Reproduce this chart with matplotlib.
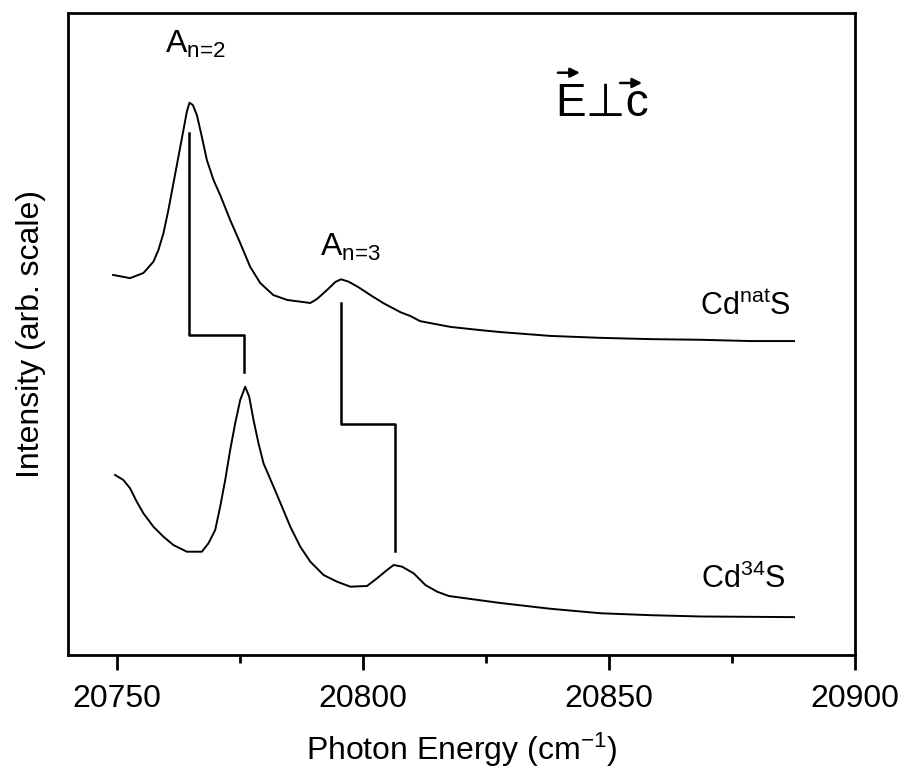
import matplotlib
matplotlib.use("Agg")
import matplotlib.pyplot as plt

plt.rcParams['font.family'] = ['Liberation Sans', 'DejaVu Sans']
plt.rcParams['mathtext.fontset'] = 'custom'
plt.rcParams['mathtext.rm'] = 'Liberation Sans'
plt.rcParams['mathtext.it'] = 'Liberation Sans'

# ---- data (photon energy in cm^-1, intensity in arb. units) ----
nat_x = [20749.16, 20752.62, 20755.33, 20757.36, 20758.38, 20759.40, 20760.41, 20761.43,
         20762.45, 20763.47, 20764.16, 20764.69, 20765.38, 20766.20, 20767.21, 20768.23,
         20769.58, 20770.94, 20772.97, 20775.01, 20777.05, 20779.08, 20781.73, 20784.58,
         20789.26, 20790.62, 20792.66, 20794.35, 20795.51, 20797.05, 20799.09, 20801.47,
         20804.18, 20807.58, 20809.6, 20811.6, 20817.8, 20823.9, 20827.9, 20838.1,
         20848.3, 20858.5, 20868.6, 20878.8, 20887.6]
nat_y = [59.2, 58.7, 59.5, 61.26, 63.08, 65.68, 69.31, 73.47,
         77.62, 81.78, 84.63, 86.03, 85.67, 84.11, 80.73, 77.10,
         73.99, 71.65, 67.76, 64.17, 60.44, 57.94, 56.07, 55.30,
         54.83, 55.45, 56.85, 58.10, 58.52, 58.15, 57.27, 56.07,
         54.78, 53.40, 52.8, 52.0, 51.1, 50.6, 50.3, 49.7,
         49.4, 49.2, 49.1, 48.9, 48.9]

s34_x = [20749.57, 20751.26, 20752.62, 20753.98, 20755.33, 20757.36, 20759.40, 20761.43,
         20764.16, 20767.21, 20768.56, 20769.92, 20770.94, 20771.96, 20772.97, 20773.99,
         20775.01, 20776.03, 20776.84, 20777.72, 20778.73, 20779.75, 20781.79, 20783.50,
         20785.19, 20787.22, 20789.26, 20791.96, 20794.69, 20797.40, 20800.80, 20802.83,
         20804.87, 20806.21, 20807.92, 20810.28, 20812.66, 20815.05, 20817.41, 20827.9,
         20838.1, 20848.3, 20858.5, 20868.6, 20887.6]
s34_y = [28.04, 27.26, 25.96, 23.88, 22.07, 19.99, 18.43, 17.13,
         16.09, 16.09, 17.40, 19.47, 23.10, 27.26, 31.93, 36.08,
         39.72, 41.79, 40.23, 36.60, 32.97, 29.85, 26.21, 23.10,
         19.99, 16.87, 14.54, 12.46, 11.42, 10.64, 10.75, 11.95,
         13.24, 14.02, 13.76, 12.72, 10.90, 9.86, 9.19, 8.1,
         7.2, 6.5, 6.2, 6.0, 5.9]

# isotope shift markers
shift_n2_x = [20764.6, 20764.6, 20775.8, 20775.8]
shift_n2_y = [81.3, 49.8, 49.8, 44.1]
shift_n3_x = [20795.6, 20795.6, 20806.4, 20806.4]
shift_n3_y = [54.8, 36.0, 36.0, 16.2]

fig = plt.figure(figsize=(9.01, 7.76), dpi=100)
ax = fig.add_axes([68/901, 1-655/776, (855-68)/901, (655-13)/776])

ax.plot(nat_x, nat_y, color='black', lw=1.4)
ax.plot(s34_x, s34_y, color='black', lw=1.4)
ax.plot(shift_n2_x, shift_n2_y, color='black', lw=1.8)
ax.plot(shift_n3_x, shift_n3_y, color='black', lw=1.8)

ax.set_xlim(20740, 20900)
ax.set_ylim(0, 100)
ax.set_xticks([20750, 20800, 20850, 20900])
ax.set_xticks([20775, 20825, 20875], minor=True)
ax.set_yticks([])
ax.tick_params(axis='x', which='major', direction='out', length=11, width=2, labelsize=23, pad=10)
ax.tick_params(axis='x', which='minor', direction='out', length=6, width=2)
for s in ax.spines.values():
    s.set_linewidth(2)

ax.set_xlabel('Photon Energy (cm$^{\\mathregular{-1}}$)', fontsize=23, labelpad=12)
ax.set_ylabel('Intensity (arb. scale)', fontsize=23, labelpad=16)

ax.text(20759.7, 93.8, 'A$_{\\text{n=2}}$', fontsize=23, ha='left', va='baseline')
ax.text(20791.3, 62.2, 'A$_{\\text{n=3}}$', fontsize=23, ha='left', va='baseline')
ax.text(20887.0, 53.0, 'Cd$^{\\mathregular{nat}}$S', fontsize=22, ha='right', va='baseline')
ax.text(20885.9, 10.4, 'Cd$^{\\mathregular{34}}$S', fontsize=22, ha='right', va='baseline')

# E perpendicular c with vector arrows
ax.text(20839.1, 84.0, 'E\u22a5c', fontsize=33, ha='left', va='baseline')
ax.annotate('', xy=(0.654, 0.907), xytext=(0.619, 0.907), xycoords='axes fraction',
            arrowprops=dict(arrowstyle='-|>', color='black', lw=1.8, mutation_scale=14))
ax.annotate('', xy=(0.733, 0.891), xytext=(0.698, 0.891), xycoords='axes fraction',
            arrowprops=dict(arrowstyle='-|>', color='black', lw=1.8, mutation_scale=14))

fig.savefig('out.png', dpi=100)
